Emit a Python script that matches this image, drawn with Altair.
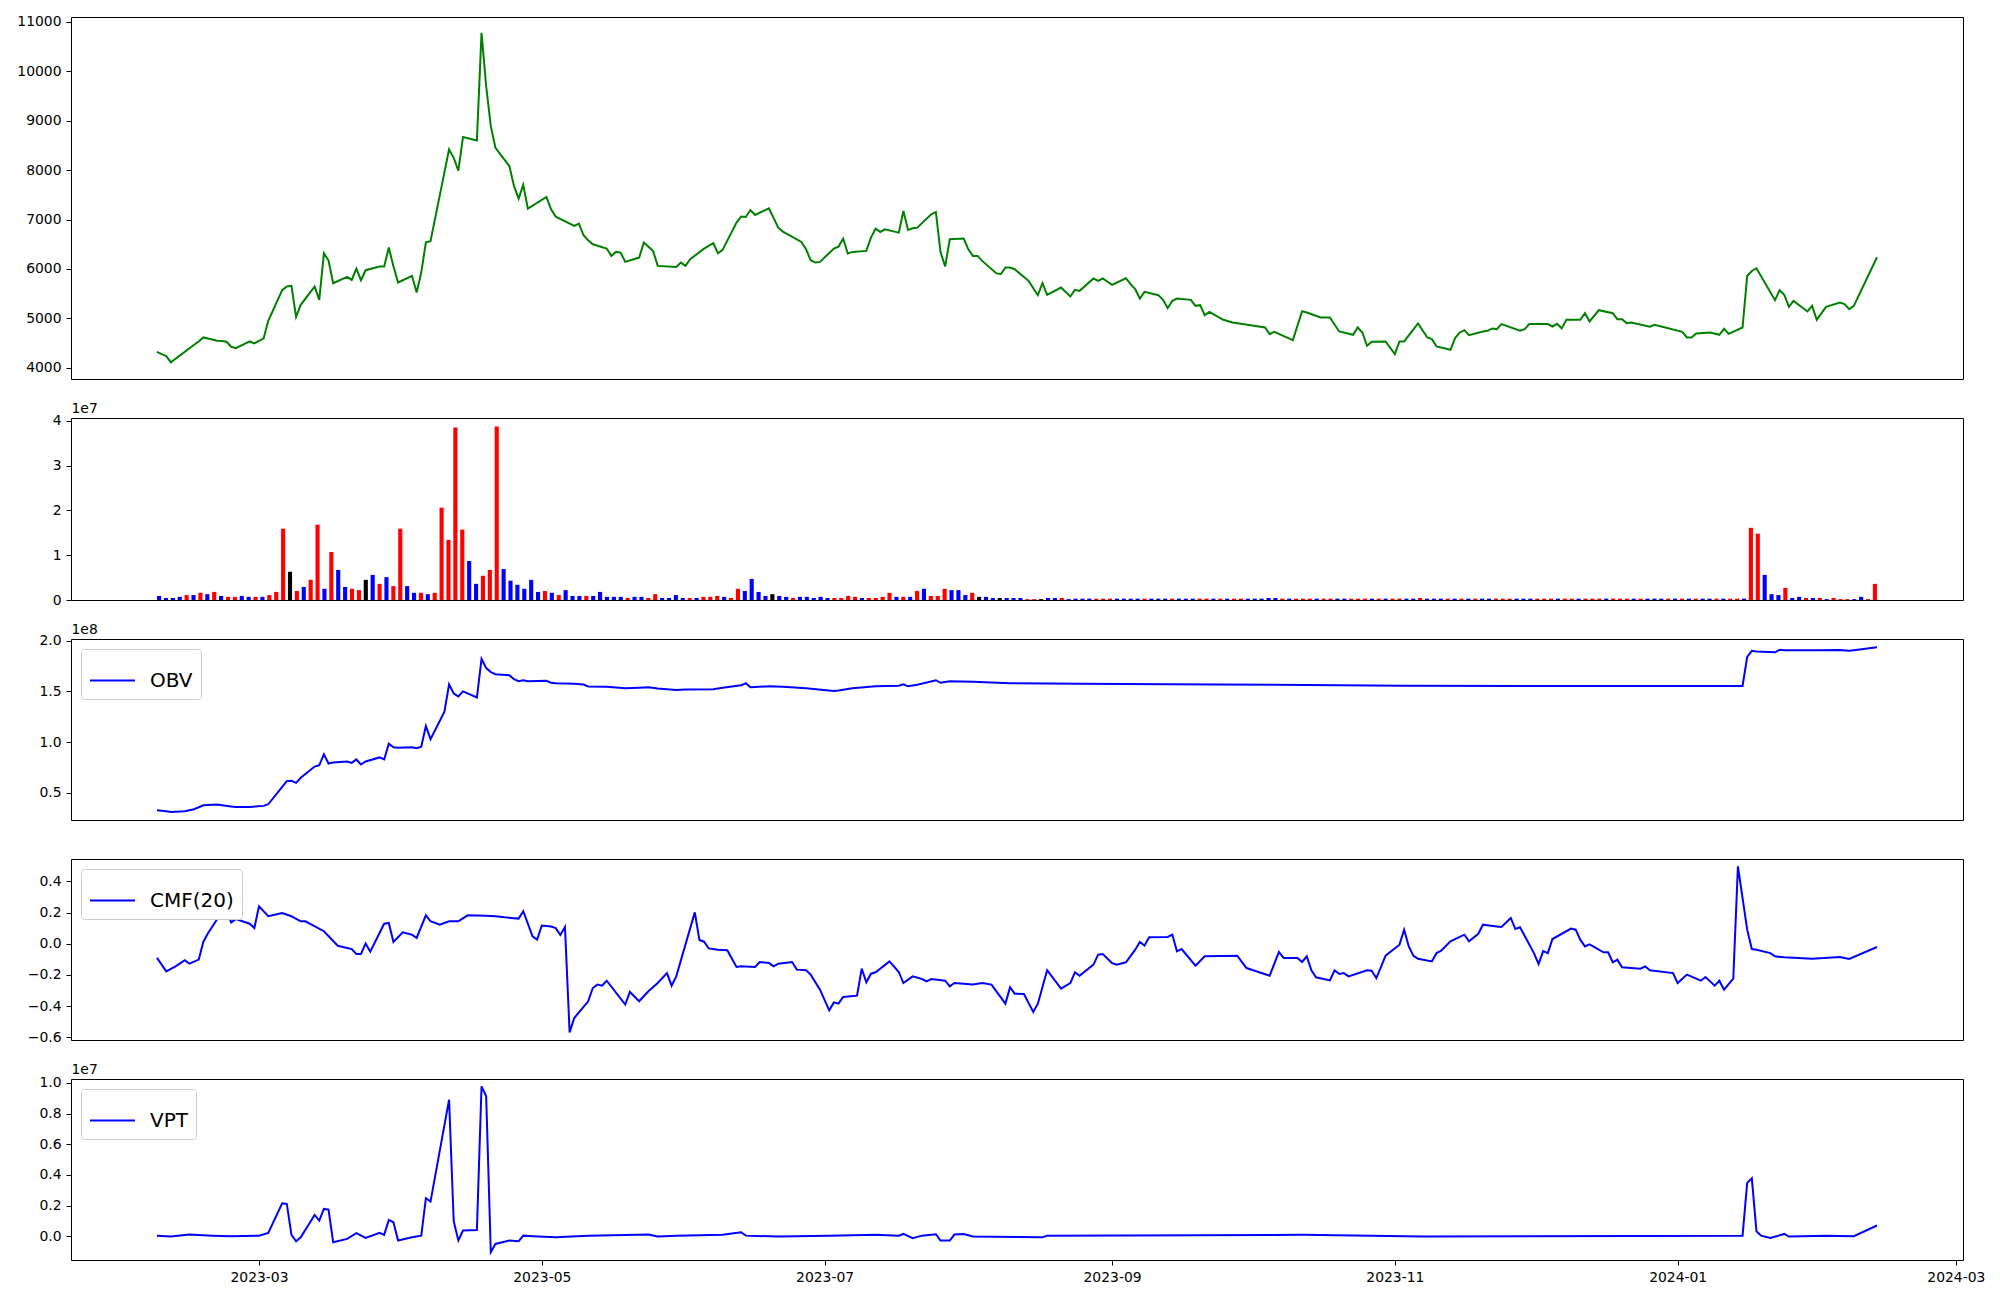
import altair as alt
import pandas as pd

FONT = "DejaVu Sans"

# ---------------- price (green line) ----------------
price_dates = [
    "2023-02-07", "2023-02-08", "2023-02-09", "2023-02-10", "2023-02-15", "2023-02-16", "2023-02-17",
    "2023-02-20", "2023-02-21", "2023-02-22", "2023-02-23", "2023-02-24", "2023-02-27", "2023-02-28",
    "2023-03-02", "2023-03-03", "2023-03-06", "2023-03-07", "2023-03-08", "2023-03-09", "2023-03-10",
    "2023-03-13", "2023-03-14", "2023-03-15", "2023-03-16", "2023-03-17", "2023-03-20", "2023-03-21",
    "2023-03-22", "2023-03-23", "2023-03-24", "2023-03-27", "2023-03-28", "2023-03-29", "2023-03-30",
    "2023-03-31", "2023-04-03", "2023-04-04", "2023-04-05", "2023-04-06", "2023-04-07", "2023-04-11",
    "2023-04-12", "2023-04-13", "2023-04-14", "2023-04-17", "2023-04-18", "2023-04-19", "2023-04-20",
    "2023-04-21", "2023-04-24", "2023-04-25", "2023-04-26", "2023-04-27", "2023-04-28", "2023-05-02",
    "2023-05-03", "2023-05-04", "2023-05-08", "2023-05-09", "2023-05-10", "2023-05-11", "2023-05-12",
    "2023-05-15", "2023-05-16", "2023-05-17", "2023-05-18", "2023-05-19", "2023-05-22", "2023-05-23",
    "2023-05-25", "2023-05-26", "2023-05-30", "2023-05-31", "2023-06-01", "2023-06-02", "2023-06-05",
    "2023-06-07", "2023-06-08", "2023-06-09", "2023-06-12", "2023-06-13", "2023-06-14", "2023-06-15",
    "2023-06-16", "2023-06-19", "2023-06-21", "2023-06-22", "2023-06-26", "2023-06-27", "2023-06-28",
    "2023-06-29", "2023-06-30", "2023-07-03", "2023-07-04", "2023-07-05", "2023-07-06", "2023-07-07",
    "2023-07-10", "2023-07-11", "2023-07-12", "2023-07-13", "2023-07-14", "2023-07-17", "2023-07-18",
    "2023-07-19", "2023-07-20", "2023-07-21", "2023-07-24", "2023-07-25", "2023-07-26", "2023-07-27",
    "2023-07-28", "2023-07-31", "2023-08-01", "2023-08-02", "2023-08-03", "2023-08-04", "2023-08-07",
    "2023-08-08", "2023-08-09", "2023-08-10", "2023-08-11", "2023-08-14", "2023-08-16", "2023-08-17",
    "2023-08-18", "2023-08-21", "2023-08-23", "2023-08-24", "2023-08-25", "2023-08-28", "2023-08-29",
    "2023-08-30", "2023-09-01", "2023-09-04", "2023-09-05", "2023-09-06", "2023-09-07", "2023-09-08",
    "2023-09-11", "2023-09-12", "2023-09-13", "2023-09-14", "2023-09-15", "2023-09-18", "2023-09-19",
    "2023-09-20", "2023-09-21", "2023-09-22", "2023-09-25", "2023-09-27", "2023-10-04", "2023-10-05",
    "2023-10-06", "2023-10-10", "2023-10-12", "2023-10-13", "2023-10-16", "2023-10-18", "2023-10-20",
    "2023-10-23", "2023-10-24", "2023-10-25", "2023-10-26", "2023-10-27", "2023-10-30", "2023-11-01",
    "2023-11-02", "2023-11-03", "2023-11-06", "2023-11-08", "2023-11-09", "2023-11-10", "2023-11-13",
    "2023-11-14", "2023-11-15", "2023-11-16", "2023-11-17", "2023-11-20", "2023-11-21", "2023-11-22",
    "2023-11-23", "2023-11-24", "2023-11-28", "2023-11-29", "2023-11-30", "2023-12-04", "2023-12-05",
    "2023-12-06", "2023-12-07", "2023-12-08", "2023-12-11", "2023-12-12", "2023-12-13", "2023-12-15",
    "2023-12-18", "2023-12-19", "2023-12-20", "2023-12-21", "2023-12-22", "2023-12-26", "2023-12-27",
    "2024-01-02", "2024-01-03", "2024-01-04", "2024-01-05", "2024-01-08", "2024-01-10", "2024-01-11",
    "2024-01-12", "2024-01-15", "2024-01-16", "2024-01-17", "2024-01-18", "2024-01-22", "2024-01-23",
    "2024-01-24", "2024-01-25", "2024-01-26", "2024-01-29", "2024-01-30", "2024-01-31", "2024-02-02",
    "2024-02-05", "2024-02-06", "2024-02-07", "2024-02-08", "2024-02-13",
]
price_values = [
    4323, 4276, 4236, 4108, 4465, 4532, 4613,
    4546, 4539, 4525, 4424, 4397, 4532, 4492,
    4593, 4950, 5570, 5644, 5657, 5031, 5273,
    5644, 5374, 6317, 6169, 5711, 5839, 5778,
    6007, 5772, 5974, 6048, 6048, 6432, 6055,
    5725, 5860, 5523, 5927, 6540, 6560, 8420,
    8250, 7988, 8669, 8602, 10778, 9700, 8890,
    8453, 8083, 7680, 7423, 7700, 7220, 7456,
    7207, 7059, 6870, 6917, 6681, 6580, 6500,
    6412, 6264, 6345, 6331, 6143, 6230, 6533,
    6365, 6062, 6041, 6129, 6062, 6196, 6412,
    6520, 6318, 6385, 6938, 7059, 7052, 7193,
    7092, 7227, 6836, 6756, 6547, 6398, 6176,
    6129, 6143, 6412, 6452, 6614, 6311, 6345,
    6365, 6634, 6816, 6749, 6803, 6735, 7173,
    6789, 6823, 6836, 7106, 7153, 6345, 6048,
    6601, 6614, 6398, 6264, 6264, 6163, 5914,
    5893, 6028, 6028, 5994, 5759, 5469, 5711,
    5476, 5624, 5442, 5577, 5556, 5806, 5759,
    5806, 5678, 5812, 5691, 5590, 5401, 5536,
    5469, 5374, 5206, 5354, 5401, 5374, 5253,
    5267, 5064, 5132, 4970, 4916, 4815, 4680,
    4727, 4559, 5145, 5118, 5017, 5017, 4734,
    4667, 4815, 4714, 4445, 4525, 4532, 4276,
    4532, 4532, 4896, 4613, 4579, 4431, 4364,
    4600, 4714, 4761, 4660, 4734, 4748, 4795,
    4781, 4883, 4748, 4781, 4883, 4883, 4835,
    4889, 4795, 4970, 4970, 5105, 4936, 5165,
    5105, 4984, 4984, 4903, 4916, 4829, 4869,
    4728, 4613, 4613, 4694, 4714, 4667, 4788,
    4687, 4815, 5858, 5959, 6014, 5367, 5570,
    5476, 5233, 5354, 5139, 5253, 4970, 5233,
    5320, 5287, 5186, 5253, 6237,
]

# ---------------- volume bars (units of 1e7), one per trading session ----------------
volume_1e7 = [
    0.09, 0.045, 0.045, 0.07, 0.11, 0.11, 0.16, 0.13, 0.18, 0.09,
    0.07, 0.07, 0.09, 0.07, 0.07, 0.07, 0.11, 0.18, 1.59, 0.63,
    0.20, 0.29, 0.45, 1.68, 0.25, 1.07, 0.67, 0.29, 0.25, 0.22,
    0.45, 0.56, 0.36, 0.51, 0.31, 1.59, 0.31, 0.16, 0.16, 0.13,
    0.16, 2.06, 1.34, 3.85, 1.57, 0.87, 0.36, 0.54, 0.67, 3.87,
    0.69, 0.43, 0.34, 0.25, 0.45, 0.18, 0.20, 0.16, 0.11, 0.22,
    0.09, 0.09, 0.09, 0.09, 0.18, 0.07, 0.07, 0.07, 0.045, 0.07,
    0.07, 0.045, 0.13, 0.045, 0.045, 0.11, 0.045, 0.045, 0.045, 0.07,
    0.07, 0.09, 0.07, 0.045, 0.25, 0.20, 0.47, 0.18, 0.09, 0.13,
    0.09, 0.07, 0.045, 0.07, 0.07, 0.045, 0.07, 0.045, 0.045, 0.045,
    0.09, 0.07, 0.045, 0.045, 0.045, 0.07, 0.16, 0.07, 0.07, 0.07,
    0.20, 0.25, 0.09, 0.09, 0.25, 0.22, 0.22, 0.11, 0.16, 0.07,
    0.07, 0.045, 0.045, 0.045, 0.045, 0.045, 0.02, 0.02, 0.02, 0.045,
    0.045, 0.045, 0.02, 0.03, 0.03, 0.03, 0.03, 0.03, 0.03, 0.03,
    0.03, 0.03, 0.03, 0.03, 0.03, 0.03, 0.03, 0.03, 0.03, 0.03,
    0.03, 0.03, 0.03, 0.03, 0.03, 0.03, 0.03, 0.03, 0.03, 0.03,
    0.03, 0.045, 0.045, 0.03, 0.03, 0.03, 0.03, 0.03, 0.03, 0.03,
    0.03, 0.03, 0.03, 0.03, 0.03, 0.03, 0.03, 0.03, 0.03, 0.03,
    0.03, 0.03, 0.03, 0.045, 0.03, 0.03, 0.03, 0.03, 0.03, 0.03,
    0.03, 0.03, 0.03, 0.03, 0.03, 0.03, 0.03, 0.03, 0.03, 0.03,
    0.03, 0.03, 0.03, 0.03, 0.03, 0.03, 0.03, 0.03, 0.03, 0.03,
    0.03, 0.03, 0.03, 0.03, 0.03, 0.03, 0.03, 0.03, 0.03, 0.03,
    0.03, 0.03, 0.03, 0.03, 0.03, 0.03, 0.03, 0.03, 0.03, 0.03,
    0.03, 1.61, 1.48, 0.56, 0.13, 0.11, 0.27, 0.045, 0.07, 0.045,
    0.045, 0.045, 0.02, 0.045, 0.02, 0.02, 0.02, 0.07, 0.02, 0.36,
]
# r = up day (red), b = down day (blue), k = unchanged (black)
volume_colors = (
    "bbbbrbrbrb" "rrbbrbrrrk" "rbrrbrbbrr" "kbrbrrbbrb" "rrrrrbbrrr"
    "bbbbbbrbrb" "bbrbbbbbrb" "brrbbbbrbr" "rrbrrbbbbk" "bbrbbbbbrr"
    "rrbrrrrbrb" "rbrrrbbbrk" "bbkbbbrrkb" "brbbbbrrrb" "bbbrbbbrbb"
    "brrbrbrrbb" "bbbrbrrrbr" "rbbrrrbrbr" "rbbrbbbrbr" "brbbrrrbbb"
    "rrrbrrbrrr" "brrrbrbbbr" "brbrbbrbrr" "brrbbbrbbr" "brbrrrbbrr"
)
session_index = list(range(len(volume_1e7)))

# ---------------- OBV (units of 1e8) ----------------
obv_dates = [
    "2023-02-07", "2023-02-09", "2023-02-10", "2023-02-13", "2023-02-15", "2023-02-17", "2023-02-20",
    "2023-02-21", "2023-02-23", "2023-02-24", "2023-02-27", "2023-03-02", "2023-03-03", "2023-03-06",
    "2023-03-07", "2023-03-08", "2023-03-09", "2023-03-10", "2023-03-13", "2023-03-14", "2023-03-15",
    "2023-03-16", "2023-03-17", "2023-03-20", "2023-03-21", "2023-03-22", "2023-03-23", "2023-03-24",
    "2023-03-27", "2023-03-28", "2023-03-29", "2023-03-30", "2023-03-31", "2023-04-03", "2023-04-04",
    "2023-04-05", "2023-04-06", "2023-04-07", "2023-04-10", "2023-04-11", "2023-04-12", "2023-04-13",
    "2023-04-14", "2023-04-17", "2023-04-18", "2023-04-19", "2023-04-20", "2023-04-21", "2023-04-24",
    "2023-04-25", "2023-04-26", "2023-04-27", "2023-04-28", "2023-05-02", "2023-05-03", "2023-05-04",
    "2023-05-08", "2023-05-10", "2023-05-11", "2023-05-15", "2023-05-19", "2023-05-22", "2023-05-24",
    "2023-05-26", "2023-05-30", "2023-06-01", "2023-06-07", "2023-06-09", "2023-06-13", "2023-06-14",
    "2023-06-15", "2023-06-19", "2023-06-22", "2023-06-27", "2023-07-03", "2023-07-04", "2023-07-07",
    "2023-07-12", "2023-07-17", "2023-07-18", "2023-07-19", "2023-07-21", "2023-07-25", "2023-07-26",
    "2023-07-28", "2023-08-02", "2023-08-10", "2023-08-25", "2023-09-13", "2023-10-06", "2023-11-03",
    "2023-12-06", "2024-01-15", "2024-01-16", "2024-01-17", "2024-01-18", "2024-01-22", "2024-01-23",
    "2024-01-24", "2024-01-31", "2024-02-05", "2024-02-07", "2024-02-08", "2024-02-13",
]
obv_1e8 = [
    0.331, 0.321, 0.314, 0.321, 0.340, 0.379, 0.386,
    0.379, 0.366, 0.363, 0.363, 0.373, 0.389, 0.56,
    0.617, 0.62, 0.60, 0.65, 0.76, 0.773, 0.88,
    0.79, 0.80, 0.81, 0.796, 0.83, 0.78, 0.81,
    0.85, 0.83, 0.985, 0.95, 0.945, 0.95, 0.94,
    0.955, 1.16, 1.03, 1.30, 1.57, 1.48, 1.45,
    1.50, 1.44, 1.82, 1.73, 1.69, 1.67, 1.66,
    1.62, 1.60, 1.61, 1.60, 1.605, 1.585, 1.58,
    1.575, 1.567, 1.548, 1.545, 1.53, 1.535, 1.54,
    1.528, 1.515, 1.52, 1.522, 1.535, 1.56, 1.58,
    1.54, 1.55, 1.545, 1.53, 1.505, 1.51, 1.53,
    1.55, 1.555, 1.57, 1.55, 1.565, 1.61, 1.585,
    1.60, 1.595, 1.58, 1.575, 1.57, 1.565, 1.555,
    1.553, 1.553, 1.84, 1.90, 1.893, 1.885, 1.91,
    1.905, 1.905, 1.908, 1.90, 1.905, 1.935,
]

# ---------------- CMF(20) ----------------
cmf_dates = [
    "2023-02-07", "2023-02-09", "2023-02-11", "2023-02-13", "2023-02-14", "2023-02-16", "2023-02-17",
    "2023-02-18", "2023-02-20", "2023-02-21", "2023-02-22", "2023-02-23", "2023-02-24", "2023-02-27",
    "2023-02-28", "2023-03-01", "2023-03-03", "2023-03-06", "2023-03-08", "2023-03-10", "2023-03-11",
    "2023-03-15", "2023-03-18", "2023-03-21", "2023-03-22", "2023-03-23", "2023-03-24", "2023-03-25",
    "2023-03-28", "2023-03-29", "2023-03-30", "2023-04-01", "2023-04-03", "2023-04-04", "2023-04-06",
    "2023-04-07", "2023-04-09", "2023-04-11", "2023-04-13", "2023-04-15", "2023-04-19", "2023-04-21",
    "2023-04-23", "2023-04-26", "2023-04-27", "2023-04-29", "2023-04-30", "2023-05-01", "2023-05-03",
    "2023-05-04", "2023-05-05", "2023-05-06", "2023-05-07", "2023-05-08", "2023-05-11", "2023-05-12",
    "2023-05-13", "2023-05-14", "2023-05-15", "2023-05-19", "2023-05-20", "2023-05-22", "2023-05-24",
    "2023-05-26", "2023-05-28", "2023-05-29", "2023-05-30", "2023-06-03", "2023-06-04", "2023-06-05",
    "2023-06-06", "2023-06-08", "2023-06-10", "2023-06-12", "2023-06-13", "2023-06-16", "2023-06-17",
    "2023-06-19", "2023-06-20", "2023-06-21", "2023-06-24", "2023-06-25", "2023-06-27", "2023-06-28",
    "2023-06-30", "2023-07-02", "2023-07-03", "2023-07-04", "2023-07-05", "2023-07-08", "2023-07-09",
    "2023-07-10", "2023-07-11", "2023-07-12", "2023-07-15", "2023-07-17", "2023-07-18", "2023-07-20",
    "2023-07-22", "2023-07-23", "2023-07-24", "2023-07-27", "2023-07-28", "2023-07-29", "2023-08-02",
    "2023-08-04", "2023-08-06", "2023-08-09", "2023-08-10", "2023-08-11", "2023-08-13", "2023-08-15",
    "2023-08-16", "2023-08-18", "2023-08-21", "2023-08-23", "2023-08-24", "2023-08-25", "2023-08-28",
    "2023-08-29", "2023-08-30", "2023-09-01", "2023-09-02", "2023-09-04", "2023-09-06", "2023-09-07",
    "2023-09-08", "2023-09-09", "2023-09-13", "2023-09-14", "2023-09-15", "2023-09-16", "2023-09-19",
    "2023-09-21", "2023-09-28", "2023-09-30", "2023-10-05", "2023-10-07", "2023-10-08", "2023-10-11",
    "2023-10-12", "2023-10-13", "2023-10-14", "2023-10-15", "2023-10-18", "2023-10-19", "2023-10-20",
    "2023-10-21", "2023-10-22", "2023-10-26", "2023-10-27", "2023-10-28", "2023-10-29", "2023-10-30",
    "2023-11-02", "2023-11-03", "2023-11-04", "2023-11-05", "2023-11-06", "2023-11-09", "2023-11-10",
    "2023-11-11", "2023-11-13", "2023-11-14", "2023-11-16", "2023-11-17", "2023-11-19", "2023-11-20",
    "2023-11-23", "2023-11-24", "2023-11-26", "2023-11-27", "2023-11-28", "2023-12-01", "2023-12-02",
    "2023-12-03", "2023-12-04", "2023-12-05", "2023-12-09", "2023-12-10", "2023-12-11", "2023-12-12",
    "2023-12-13", "2023-12-16", "2023-12-17", "2023-12-18", "2023-12-19", "2023-12-20", "2023-12-24",
    "2023-12-25", "2023-12-26", "2023-12-31", "2024-01-01", "2024-01-03", "2024-01-06", "2024-01-07",
    "2024-01-09", "2024-01-10", "2024-01-11", "2024-01-13", "2024-01-14", "2024-01-16", "2024-01-17",
    "2024-01-18", "2024-01-21", "2024-01-22", "2024-01-24", "2024-01-30", "2024-02-05", "2024-02-07",
    "2024-02-13",
]
cmf_values = [
    -0.091, -0.177, -0.145, -0.106, -0.128, -0.102, 0.013,
    0.067, 0.158, 0.158, 0.208, 0.137, 0.158, 0.128,
    0.101, 0.24, 0.176, 0.197, 0.176, 0.144, 0.144,
    0.08, -0.013, -0.034, -0.066, -0.066, 0.002, -0.051,
    0.128, 0.133, 0.011, 0.073, 0.058, 0.037, 0.182,
    0.144, 0.122, 0.144, 0.144, 0.182, 0.18, 0.176,
    0.169, 0.161, 0.208, 0.047, 0.026, 0.117, 0.11,
    0.10, 0.056, 0.107, -0.568, -0.476, -0.369, -0.284,
    -0.262, -0.269, -0.237, -0.39, -0.309, -0.369, -0.305,
    -0.252, -0.188, -0.269, -0.209, 0.201, 0.024, 0.013,
    -0.03, -0.038, -0.042, -0.149, -0.145, -0.149, -0.117,
    -0.124, -0.145, -0.128, -0.117, -0.166, -0.17, -0.198,
    -0.294, -0.427, -0.376, -0.384, -0.341, -0.333, -0.16,
    -0.247, -0.192, -0.183, -0.113, -0.181, -0.252, -0.209,
    -0.226, -0.241, -0.226, -0.237, -0.273, -0.252, -0.262,
    -0.252, -0.262, -0.384, -0.279, -0.32, -0.322, -0.437,
    -0.384, -0.17, -0.288, -0.252, -0.183, -0.205, -0.134,
    -0.07, -0.066, -0.124, -0.134, -0.119, -0.038, 0.011,
    -0.012, 0.041, 0.043, 0.058, -0.049, -0.034, -0.141,
    -0.081, -0.077, -0.156, -0.205, -0.053, -0.091, -0.091,
    -0.117, -0.081, -0.17, -0.215, -0.235, -0.17, -0.194,
    -0.188, -0.209, -0.17, -0.173, -0.22, -0.15, -0.077,
    -0.006, 0.09, -0.017, -0.077, -0.096, -0.113, -0.06,
    -0.044, 0.015, 0.03, 0.058, 0.015, 0.064, 0.122,
    0.111, 0.107, 0.165, 0.094, 0.105, -0.06, -0.13,
    -0.047, -0.06, 0.03, 0.097, 0.09, 0.026, -0.017,
    -0.004, -0.055, -0.055, -0.119, -0.102, -0.151, -0.16,
    -0.145, -0.17, -0.188, -0.252, -0.198, -0.237, -0.213,
    -0.269, -0.237, -0.294, -0.224, 0.496, 0.09, -0.034,
    -0.038, -0.06, -0.081, -0.087, -0.096, -0.085, -0.098,
    -0.021,
]

# ---------------- VPT (units of 1e7) ----------------
vpt_dates = [
    "2023-02-07", "2023-02-10", "2023-02-14", "2023-02-19", "2023-02-23", "2023-03-01", "2023-03-03",
    "2023-03-06", "2023-03-07", "2023-03-08", "2023-03-09", "2023-03-10", "2023-03-13", "2023-03-14",
    "2023-03-15", "2023-03-16", "2023-03-17", "2023-03-20", "2023-03-22", "2023-03-24", "2023-03-27",
    "2023-03-28", "2023-03-29", "2023-03-30", "2023-03-31", "2023-04-03", "2023-04-05", "2023-04-06",
    "2023-04-07", "2023-04-11", "2023-04-12", "2023-04-13", "2023-04-14", "2023-04-17", "2023-04-18",
    "2023-04-19", "2023-04-20", "2023-04-21", "2023-04-24", "2023-04-26", "2023-04-27", "2023-04-29",
    "2023-05-04", "2023-05-11", "2023-05-24", "2023-05-26", "2023-05-30", "2023-06-09", "2023-06-13",
    "2023-06-14", "2023-06-21", "2023-07-02", "2023-07-12", "2023-07-17", "2023-07-18", "2023-07-20",
    "2023-07-22", "2023-07-25", "2023-07-26", "2023-07-28", "2023-07-29", "2023-07-31", "2023-08-02",
    "2023-08-17", "2023-08-18", "2023-10-12", "2023-11-07", "2024-01-15", "2024-01-16", "2024-01-17",
    "2024-01-18", "2024-01-19", "2024-01-21", "2024-01-24", "2024-01-25", "2024-02-02", "2024-02-08",
    "2024-02-13",
]
vpt_1e7 = [
    0.004, -0.002, 0.011, 0.004, 0.0, 0.004, 0.022,
    0.215, 0.211, 0.009, -0.033, -0.007, 0.139, 0.102,
    0.178, 0.174, -0.039, -0.017, 0.02, -0.011, 0.022,
    0.009, 0.107, 0.091, -0.028, -0.007, 0.004, 0.248,
    0.226, 0.891, 0.098, -0.028, 0.037, 0.041, 0.978,
    0.913, -0.104, -0.05, -0.028, -0.033, 0.004, 0.0,
    -0.007, 0.004, 0.011, -0.002, 0.004, 0.009, 0.026,
    0.004, -0.002, 0.004, 0.009, 0.004, 0.015, -0.013,
    0.004, 0.013, -0.028, -0.028, 0.011, 0.015, -0.002,
    -0.007, 0.004, 0.009, -0.002, 0.004, 0.348, 0.378,
    0.033, 0.004, -0.011, 0.015, -0.002, 0.004, 0.0,
    0.07,
]

# ---------------- layout constants ----------------
W = 1892
X_DOMAIN = [
    alt.DateTime(year=2023, month=1, date=19, hours=10, minutes=48, utc=True),
    alt.DateTime(year=2024, month=3, date=2, hours=13, minutes=12, utc=True),
]
month_ticks = [
    alt.DateTime(year=2023, month=3, date=1, utc=True),
    alt.DateTime(year=2023, month=5, date=1, utc=True),
    alt.DateTime(year=2023, month=7, date=1, utc=True),
    alt.DateTime(year=2023, month=9, date=1, utc=True),
    alt.DateTime(year=2023, month=11, date=1, utc=True),
    alt.DateTime(year=2024, month=1, date=1, utc=True),
    alt.DateTime(year=2024, month=3, date=1, utc=True),
]


def exp_axis(text, values, fmt=None, label_expr=None):
    kw = dict(values=values)
    if text is not None:
        kw.update(title=text, titleAngle=0, titleAlign="left",
                  titleBaseline="alphabetic", titleX=0, titleY=-6)
    else:
        kw["title"] = None
    if fmt:
        kw["format"] = fmt
    if label_expr:
        kw["labelExpr"] = label_expr
    return alt.Axis(**kw)


def xdate(show=False):
    if show:
        ax = alt.Axis(values=month_ticks, format="%Y-%m", title=None, labelFlush=False)
    else:
        ax = None
    return alt.X("date:T", scale=alt.Scale(type="utc", domain=X_DOMAIN, nice=False), axis=ax)


def legend_line(name):
    return alt.Color(
        "series:N",
        scale=alt.Scale(domain=[name], range=["#0000ff"]),
        legend=alt.Legend(
            orient="top-left", offset=10, title=None, symbolType="stroke",
            symbolSize=2025, symbolStrokeWidth=2, labelFontSize=20, labelFont=FONT,
            labelColor="black", padding=8, fillColor="white", strokeColor="#cccccc",
            cornerRadius=3, labelOffset=14,
        ),
    )


price_df = pd.DataFrame({"date": price_dates, "value": price_values})
p1 = alt.Chart(price_df).mark_line(color="#008000", strokeWidth=2).encode(
    x=xdate(),
    y=alt.Y("value:Q", scale=alt.Scale(domain=[3772, 11100], nice=False, zero=False),
            axis=exp_axis(None, list(range(4000, 11001, 1000)), fmt="d")),
).properties(width=W, height=362)

vol_df = pd.DataFrame({"i": session_index, "v": volume_1e7, "c": list(volume_colors)})
p2 = alt.Chart(vol_df).transform_calculate(
    x0="datum.i - 0.3", x1="datum.i + 0.3"
).mark_bar().encode(
    x=alt.X("x0:Q", scale=alt.Scale(domain=[-12.78, 261.78], nice=False, zero=False), axis=None),
    x2="x1:Q",
    y=alt.Y("v:Q", scale=alt.Scale(domain=[0, 4.06], nice=False),
            axis=exp_axis("1e7", [0, 1, 2, 3, 4], fmt="d")),
    y2=alt.datum(0),
    color=alt.Color("c:N", scale=alt.Scale(domain=["r", "b", "k"], range=["#ff0000", "#0000ff", "#000000"]),
                    legend=None),
).properties(width=W, height=182)

obv_df = pd.DataFrame({"date": obv_dates, "value": obv_1e8, "series": "OBV"})
p3 = alt.Chart(obv_df).mark_line(strokeWidth=2).encode(
    x=xdate(),
    y=alt.Y("value:Q", scale=alt.Scale(domain=[0.234, 2.016], nice=False, zero=False),
            axis=exp_axis("1e8", [0.5, 1.0, 1.5, 2.0], fmt=".1f")),
    color=legend_line("OBV"),
).properties(width=W, height=181)

cmf_df = pd.DataFrame({"date": cmf_dates, "value": cmf_values, "series": "CMF(20)"})
p4 = alt.Chart(cmf_df).mark_line(strokeWidth=2).encode(
    x=xdate(),
    y=alt.Y("value:Q", scale=alt.Scale(domain=[-0.617, 0.543], nice=False, zero=False),
            axis=exp_axis(None, [-0.6, -0.4, -0.2, 0.0, 0.2, 0.4],
                          label_expr="replace(format(datum.value, '.1f'), '-', '\u2212')")),
    color=legend_line("CMF(20)"),
).properties(width=W, height=181)

vpt_df = pd.DataFrame({"date": vpt_dates, "value": vpt_1e7, "series": "VPT"})
p5 = alt.Chart(vpt_df).mark_line(strokeWidth=2).encode(
    x=xdate(show=True),
    y=alt.Y("value:Q", scale=alt.Scale(domain=[-0.155, 1.026], nice=False, zero=False),
            axis=exp_axis("1e7", [0.0, 0.2, 0.4, 0.6, 0.8, 1.0], fmt=".1f",
                          label_expr="replace(format(datum.value, '.1f'), '-', '\u2212')")),
    color=legend_line("VPT"),
).properties(width=W, height=181)

chart = alt.vconcat(p1, p2, p3, p4, p5, spacing=39, bounds="flush").resolve_scale(
    x="independent", y="independent", color="independent"
).resolve_legend(color="independent").properties(
    padding={"left": 8, "top": 6, "right": 5, "bottom": 5}
).configure_view(
    stroke="black", strokeWidth=1
).configure_axis(
    labelFont=FONT, labelFontSize=13.9, labelColor="black", tickColor="black",
    tickSize=5, tickWidth=1, labelPadding=5, domain=False, grid=False,
    titleFont=FONT, titleFontSize=13.9, titleFontWeight="normal", titleColor="black",
)

chart.save("out.html", embed_options={"renderer": "svg", "actions": False})
